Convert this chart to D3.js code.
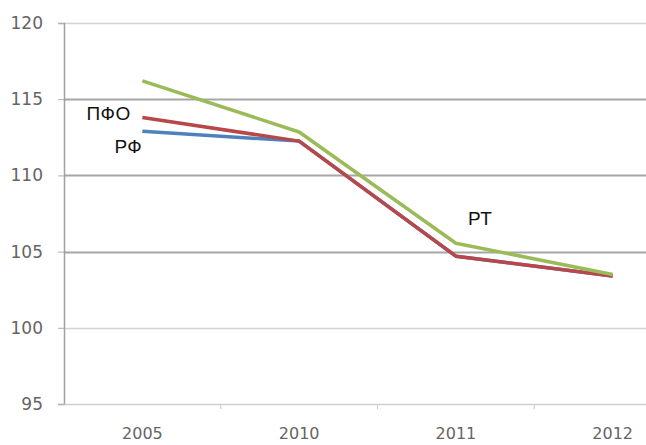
<!DOCTYPE html>
<html><head><meta charset="utf-8">
<script src="https://cdn.jsdelivr.net/npm/d3@7"></script>
<style>html,body{margin:0;padding:0;background:#fff;overflow:hidden}</style>
</head><body>
<svg id="c" width="646" height="445"></svg>
<script>
const categories = ["2005", "2010", "2011", "2012"];
const yTicks = [95, 100, 105, 110, 115, 120];
const rfValues  = [112.9, 112.25, 104.7, 103.4];   // РФ
const pfoValues = [113.8, 112.25, 104.7, 103.4];   // ПФО
const rtValues  = [116.2, 112.85, 105.55, 103.5];  // РТ

(function () {
const svg = d3.select("#c");
const mLeft = 64, mRight = 691, mTop = 23, mBottom = 404;

const x = d3.scaleBand().domain(categories).range([mLeft, mRight]);
const y = d3.scaleLinear().domain([95, 120]).range([mBottom, mTop]);

// gridlines
svg.append("g").selectAll("line").data(yTicks.filter(d => d !== 95)).join("line")
  .attr("x1", mLeft).attr("x2", mRight)
  .attr("y1", d => Math.round(y(d)) + 0.5).attr("y2", d => Math.round(y(d)) + 0.5)
  .attr("stroke", d => (d === 120 || d === 100) ? "#d4d4d4" : "#a6a6a6")
  .attr("stroke-width", d => (d === 120 || d === 100) ? 1.5 : 2);

// y axis
const yAxis = d3.axisLeft(y).tickValues(yTicks).tickSize(6).tickPadding(15);
const gy = svg.append("g").attr("transform", `translate(${mLeft},0)`).call(yAxis);
gy.select(".domain").attr("stroke", "#a0a0a0").attr("stroke-width", 1.5);
gy.selectAll(".tick line").attr("stroke", "#b0b0b0");
gy.selectAll("text").attr("fill", "#4a4a4a").attr("font-family", "DejaVu Sans, sans-serif")
  .attr("font-size", 17).style("opacity", 0.85);

// x axis
const xAxis = d3.axisBottom(x).tickSize(0).tickPadding(24);
const gx = svg.append("g").attr("transform", `translate(0,${mBottom})`).call(xAxis);
gx.select(".domain").attr("stroke", "#cfcfcf").attr("stroke-width", 1.5);
gx.selectAll("text").attr("fill", "#4a4a4a").attr("font-family", "DejaVu Sans, sans-serif")
  .attr("font-size", 16).style("opacity", 0.85);
svg.append("g").selectAll("line").data(categories.slice(1)).join("line")
  .attr("x1", d => x(d)).attr("x2", d => x(d))
  .attr("y1", mBottom).attr("y2", mBottom + 5)
  .attr("stroke", "#c8c8c8");

const line = d3.line().x((d, i) => x(categories[i]) + x.bandwidth() / 2).y(d => y(d));
const series = [
  {name: "РФ", values: rfValues, color: "#4f81bd"},
  {name: "ПФО", values: pfoValues, color: "#b8474a"},
  {name: "РТ", values: rtValues, color: "#9bbb59"}
];
svg.append("g").selectAll("path").data(series).join("path")
  .attr("d", d => line(d.values))
  .attr("fill", "none").attr("stroke", d => d.color)
  .attr("stroke-width", 3.5).attr("stroke-linejoin", "round");

const labels = [
  {text: "ПФО", cat: "2005", val: 113.63, dx: -56},
  {text: "РФ", cat: "2005", val: 111.47, dx: -28},
  {text: "РТ", cat: "2011", val: 106.75, dx: 12}
];
svg.append("g").selectAll("text").data(labels).join("text")
  .attr("x", d => x(d.cat) + x.bandwidth() / 2 + d.dx)
  .attr("y", d => y(d.val))
  .attr("font-family", "Liberation Sans, Arial, sans-serif")
  .attr("font-size", 19).attr("fill", "#111").style("letter-spacing", "0.5px")
  .text(d => d.text);
})();
</script>
</body></html>
